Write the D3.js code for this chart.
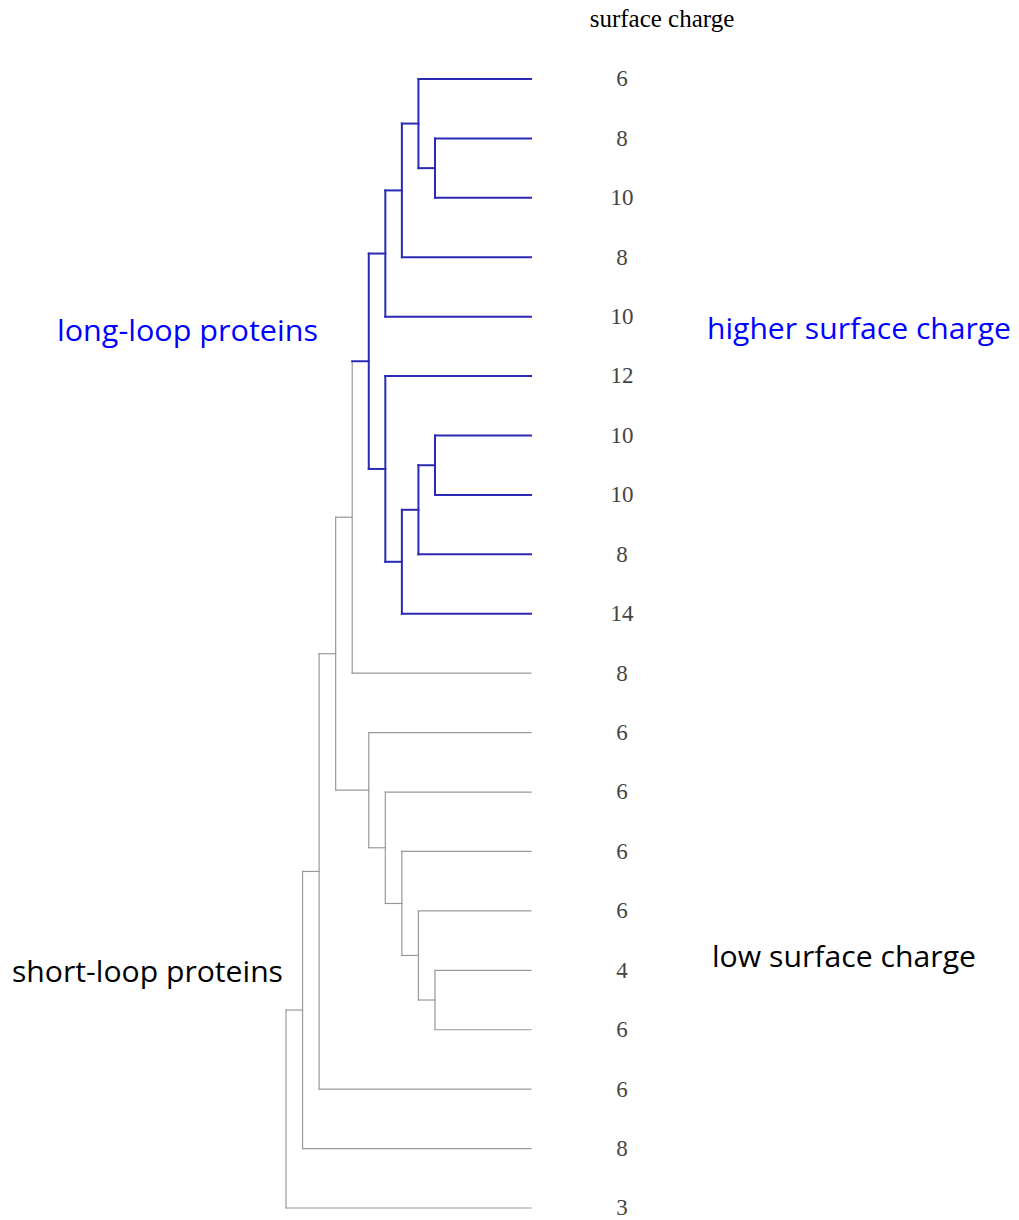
<!DOCTYPE html>
<html>
<head>
<meta charset="utf-8">
<script src="https://cdn.jsdelivr.net/npm/d3@7"></script>
<style>
  body { margin: 0; background: #fff; }
</style>
</head>
<body>
<svg width="1019" height="1220"></svg>
<script>
// leaf labels (surface charge), top to bottom
const leafLabels = ["6", "8", "10", "8", "10", "12", "10", "10", "8", "14",
                    "8", "6", "6", "6", "6", "4", "6", "6", "8", "3"];

// linkage: each merge joins two nodes (leaves 0..19, merges 20..) at a height
const mergeLeft  = [1, 0, 21, 22, 6, 24, 25, 5, 23, 28, 15, 14, 13, 12, 11, 29, 35, 36, 37];
const mergeRight = [2, 20, 3, 4, 7, 8, 9, 26, 27, 10, 16, 30, 31, 32, 33, 34, 17, 18, 19];
const mergeHeight = [5.8, 6.8, 7.8, 8.8, 5.8, 6.8, 7.8, 8.8, 9.8, 10.8,
                     5.8, 6.8, 7.8, 8.8, 9.8, 11.8, 12.8, 13.8, 14.8];

// merge that holds the highlighted cluster
const blueRoot = 28;

const svg = d3.select("svg");
const nLeaves = leafLabels.length;

// build nested tree from the linkage
const nodes = [];
for (let i = 0; i < nLeaves; i++) nodes.push({id: i, height: 0, label: leafLabels[i]});
for (let j = 0; j < mergeLeft.length; j++) {
  nodes.push({id: nLeaves + j, height: mergeHeight[j],
              children: [nodes[mergeLeft[j]], nodes[mergeRight[j]]]});
}
const root = d3.hierarchy(nodes[nodes.length - 1]);

const x = d3.scaleLinear().domain([0, 14.8]).range([531, 286]);
const y = d3.scalePoint().domain(d3.range(nLeaves)).range([79, 1208]);

// positions: leaves by order, merges at mean of children
root.eachAfter(d => {
  d.px = x(d.data.height);
  d.py = d.children ? d3.mean(d.children, c => c.py) : y(d.data.id);
});

const blueIds = new Set();
root.each(d => { if (d.data.id === blueRoot) d.descendants().forEach(e => blueIds.add(e.data.id)); });

const colorOf = d => blueIds.has(d.data.id) ? "#2a2ab4" : "#999";
const widthOf = d => blueIds.has(d.data.id) ? 2 : 1.2;

const segs = [];
root.each(d => {
  if (!d.children) return;
  const ys = d.children.map(c => c.py);
  segs.push({x1: d.px, y1: d3.min(ys), x2: d.px, y2: d3.max(ys), node: d});
  d.children.forEach(c => segs.push({x1: d.px, y1: c.py, x2: c.px, y2: c.py, node: c}));
});
segs.sort((a, b) => blueIds.has(a.node.data.id) - blueIds.has(b.node.data.id));

svg.append("g")
  .selectAll("line")
  .data(segs)
  .join("line")
  .attr("x1", d => d.x1).attr("y1", d => d.y1)
  .attr("x2", d => d.x2).attr("y2", d => d.y2)
  .attr("stroke", d => colorOf(d.node))
  .attr("stroke-width", d => widthOf(d.node))
  .attr("stroke-linecap", "square");

// leaf labels
svg.append("g")
  .selectAll("text")
  .data(root.leaves())
  .join("text")
  .attr("x", 622)
  .attr("y", d => d.py)
  .attr("dy", "0.32em")
  .attr("text-anchor", "middle")
  .attr("font-family", "Liberation Serif, serif")
  .attr("font-size", "23px")
  .attr("fill", "#444")
  .text(d => d.data.label);

// column title
svg.append("text")
  .attr("x", 662)
  .attr("y", 27)
  .attr("text-anchor", "middle")
  .attr("font-family", "Liberation Serif, serif")
  .attr("font-size", "25px")
  .attr("fill", "#000")
  .text("surface charge");

// annotations
const notes = [
  {text: "long-loop proteins", x: 57, y: 331, w: 261, color: "#0000ff"},
  {text: "higher surface charge", x: 707, y: 329, w: 304, color: "#0000ff"},
  {text: "short-loop proteins", x: 12, y: 972, w: 271, color: "#000"},
  {text: "low surface charge", x: 712, y: 957, w: 264, color: "#000"}
];
svg.append("g")
  .selectAll("text")
  .data(notes)
  .join("text")
  .attr("x", d => d.x)
  .attr("y", d => d.y)
  .attr("dy", "0.35em")
  .attr("font-family", "Open Sans, sans-serif")
  .attr("font-size", "29px")
  .attr("fill", d => d.color)
  .attr("textLength", d => d.w)
  .attr("lengthAdjust", "spacingAndGlyphs")
  .text(d => d.text);
</script>
</body>
</html>
